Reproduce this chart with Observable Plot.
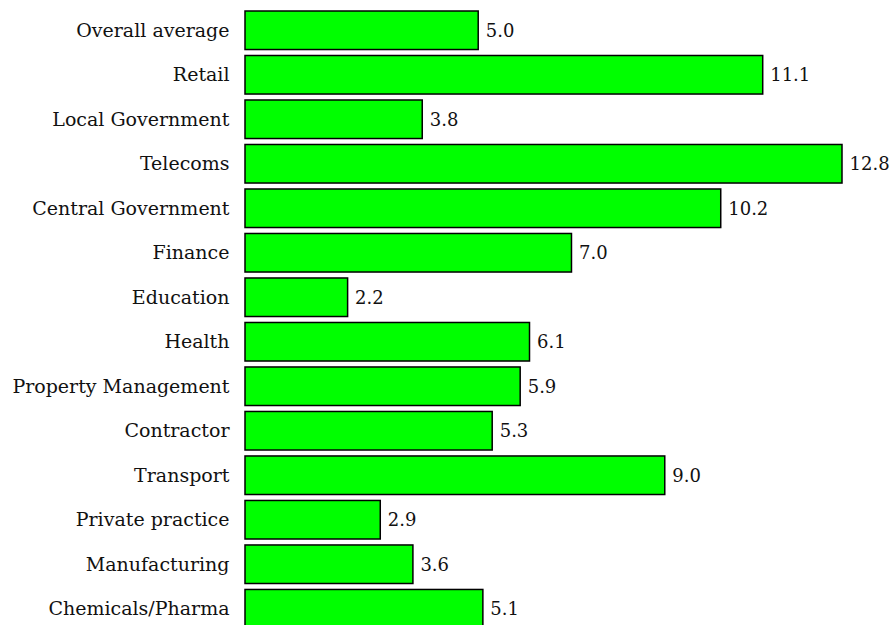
<!DOCTYPE html>
<html>
<head>
<meta charset="utf-8">
<script src="https://cdn.jsdelivr.net/npm/d3@7"></script>
<script src="https://cdn.jsdelivr.net/npm/@observablehq/plot@0.6"></script>
<style>
  html, body { margin: 0; padding: 0; background: #fff; }
  #chart svg { display: block; }
</style>
</head>
<body>
<div id="chart"></div>
<script>
const categories = [
  "Overall average", "Retail", "Local Government", "Telecoms",
  "Central Government", "Finance", "Education", "Health",
  "Property Management", "Contractor", "Transport", "Private practice",
  "Manufacturing", "Chemicals/Pharma"
];
const values = [5.0, 11.1, 3.8, 12.8, 10.2, 7.0, 2.2, 6.1, 5.9, 5.3, 9.0, 2.9, 3.6, 5.1];

const data = categories.map((c, i) => ({category: c, value: values[i]}));

const chart = Plot.plot({
  width: 890,
  height: 628,
  marginLeft: 245,
  marginRight: 48,
  marginTop: 11,
  marginBottom: 0,
  style: {fontFamily: "'DejaVu Serif', serif", fontSize: "19px", color: "#111", background: "#fff"},
  x: {domain: [0, 12.8], axis: null},
  y: {domain: categories, paddingInner: 0.134, paddingOuter: 0, align: 0, round: false, label: null},
  marks: [
    Plot.barX(data, {x: "value", y: "category", fill: "#00ff00", stroke: "#000", strokeWidth: 1.5}),
    Plot.text(data, {x: "value", y: "category", text: d => d.value.toFixed(1), textAnchor: "start", dx: 7, fill: "#111", fontSize: 18}),
    Plot.axisY({tickSize: 0, tickPadding: 16, label: null, fontSize: 19})
  ]
});
document.getElementById("chart").appendChild(chart);
</script>
</body>
</html>
